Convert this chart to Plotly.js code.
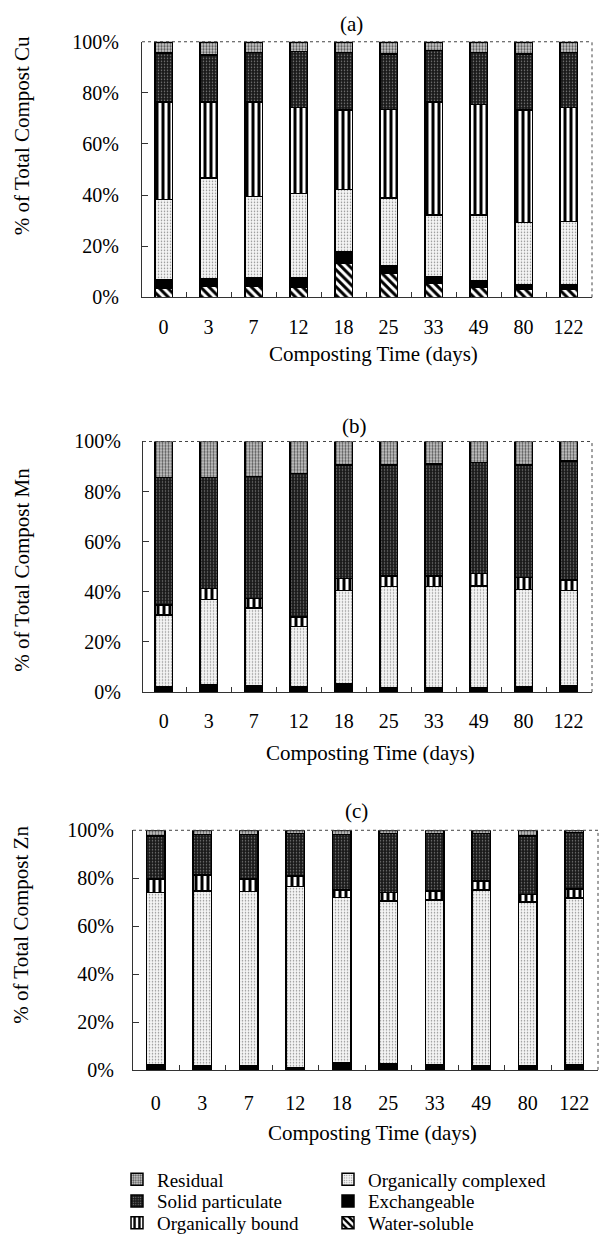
<!DOCTYPE html>
<html>
<head>
<meta charset="utf-8">
<script src="https://cdn.plot.ly/plotly-3.0.1.min.js"></script>
<style>html,body{margin:0;padding:0;background:#fff;}#chart{width:600px;height:1242px;}</style>
</head>
<body>
<div id="chart"></div>
<script>
const days = ["0","3","7","12","18","25","33","49","80","122"];
const fractionNames = ["Water-soluble","Exchangeable","Organically complexed","Organically bound","Solid particulate","Residual"];

// Panel (a) Cu
const cuWater   = [3.5, 4.2, 4.2, 3.8, 13.2, 9.6, 5.4, 3.8, 3.2, 3.1];
const cuExch    = [3.2, 2.9, 3.5, 3.9, 4.8, 2.7, 2.6, 2.5, 1.9, 2.0];
const cuOrgComp = [31.6, 39.5, 31.7, 33.0, 24.1, 26.6, 24.3, 26.0, 24.1, 24.6];
const cuOrgBound= [38.1, 29.8, 37.0, 33.5, 31.2, 34.6, 44.1, 43.2, 44.1, 44.5];
const cuSolid   = [19.2, 18.5, 19.4, 22.0, 22.5, 21.8, 20.2, 20.3, 22.0, 21.6];
const cuResid   = [4.4, 5.1, 4.2, 3.8, 4.2, 4.7, 3.4, 4.2, 4.7, 4.2];

// Panel (b) Mn
const mnWater   = [0.3, 0.3, 0.3, 0.3, 0.3, 0.2, 0.2, 0.2, 0.2, 0.3];
const mnExch    = [1.8, 2.7, 2.3, 1.8, 3.1, 1.5, 1.5, 1.5, 1.8, 2.1];
const mnOrgComp = [28.7, 34.0, 30.9, 24.1, 37.1, 40.4, 40.4, 40.6, 39.0, 38.1];
const mnOrgBound= [4.0, 4.4, 3.9, 3.7, 4.9, 4.2, 4.2, 5.1, 4.8, 4.2];
const mnSolid   = [50.9, 44.3, 48.6, 57.4, 45.3, 44.4, 44.7, 44.3, 44.9, 47.6];
const mnResid   = [14.3, 14.3, 14.0, 12.7, 9.3, 9.3, 9.0, 8.3, 9.3, 7.7];

// Panel (c) Zn
const znWater   = [0.3, 0.3, 0.3, 0.2, 0.3, 0.3, 0.3, 0.2, 0.2, 0.3];
const znExch    = [1.9, 1.5, 1.5, 0.9, 2.5, 2.2, 1.9, 1.6, 1.6, 1.9];
const znOrgComp = [71.9, 72.9, 72.6, 75.4, 69.1, 68.0, 68.8, 73.3, 68.2, 69.5];
const znOrgBound= [5.6, 6.6, 5.3, 4.5, 3.2, 3.6, 3.7, 3.7, 3.3, 3.8];
const znSolid   = [17.9, 16.9, 18.5, 17.6, 23.1, 24.5, 23.9, 19.8, 24.3, 23.5];
const znResid   = [2.4, 1.8, 1.8, 1.4, 1.8, 1.4, 1.4, 1.4, 2.4, 1.0];

const yTitles = ["% of Total Compost Cu","% of Total Compost Mn","% of Total Compost Zn"];
const xTitle = "Composting Time (days)";
const panelLabels = ["(a)","(b)","(c)"];

const panels = [
  [cuWater, cuExch, cuOrgComp, cuOrgBound, cuSolid, cuResid],
  [mnWater, mnExch, mnOrgComp, mnOrgBound, mnSolid, mnResid],
  [znWater, znExch, znOrgComp, znOrgBound, znSolid, znResid]
];

const styles = [
  {color:'#ffffff', pattern:{shape:'\\', fgcolor:'#000', bgcolor:'#fff', fgopacity:1, size:6, solidity:0.5, fillmode:'overlay'}},
  {color:'#000000', pattern:{shape:''}},
  {color:'#f2f2f2', pattern:{shape:'.', fgcolor:'#8a8a8a', bgcolor:'#f4f4f4', fgopacity:1, size:3, solidity:0.2, fillmode:'overlay'}},
  {color:'#ffffff', pattern:{shape:'|', fgcolor:'#000', bgcolor:'#fff', fgopacity:1, size:6, solidity:0.5, fillmode:'overlay'}},
  {color:'#1a1a1a', pattern:{shape:'.', fgcolor:'#808080', bgcolor:'#1a1a1a', fgopacity:1, size:3, solidity:0.2, fillmode:'overlay'}},
  {color:'#b8b8b8', pattern:{shape:'.', fgcolor:'#555', bgcolor:'#d0d0d0', fgopacity:1, size:3, solidity:0.45, fillmode:'overlay'}}
];
// legend placement: each fraction in its own legend box (two columns)
const legendIds = ['legend6','legend5','legend4','legend3','legend2','legend'];
const legendPos = {
  legend:  [117, 1186], legend2: [117, 1208], legend3: [117, 1230],
  legend4: [328, 1186], legend5: [328, 1208], legend6: [328, 1230]
};

const serif = 'Liberation Serif, Times New Roman, serif';
const FS = 20;

const traces = [];
panels.forEach((series, p) => {
  const ax = p === 0 ? '' : String(p+1);
  series.forEach((vals, k) => {
    traces.push({
      type:'bar', x: days, y: vals, name: fractionNames[k],
      xaxis:'x'+ax, yaxis:'y'+ax,
      marker:{color: styles[k].color, pattern: styles[k].pattern, line:{color:'#000', width:1.5}},
      showlegend: p === 0, legend: legendIds[k], hoverinfo:'skip'
    });
  });
});

const xDomains = [[142/600, 592/600],[143/600, 592/600],[133/600, 598/600]];
const yDomains = [[1-299/1242, 1-42/1242],[1-696/1242, 1-444/1242],[1-1076/1242, 1-835/1242]];
const xRanges = [[-0.48, 9.52],[-0.46, 9.52],[-0.49, 9.51]];
const xStandoff = [12, 11, 15];
const yStandoff = [18, 17, 14];
const yTitlePos = [[22, 137], [22, 573], [21, 930]];
const xTitlePos = [[373, 356], [370, 757], [372, 1139]];
const panelLabelPos = [[351, 24], [354, 428], [356, 816]];

const layout = {
  width:600, height:1242,
  margin:{l:0, r:0, t:0, b:0},
  paper_bgcolor:'#fff', plot_bgcolor:'#fff',
  barmode:'stack', bargap:0.61,
  font:{family: serif, size:FS, color:'#000'},
  showlegend:true,
  shapes:[], annotations:[]
};

Object.keys(legendPos).forEach(id => {
  const [px, py] = legendPos[id];
  layout[id] = {x:px/600, xanchor:'left', y:1-py/1242, yanchor:'middle',
    font:{family:serif, size:19}, bgcolor:'rgba(0,0,0,0)', borderwidth:0};
});

for (let p = 0; p < 3; p++) {
  const ax = p === 0 ? '' : String(p+1);
  layout['xaxis'+ax] = {
    domain: xDomains[p], anchor:'y'+ax, type:'category', range: xRanges[p],
    showline:true, linecolor:'#333', linewidth:1, mirror:false,
    ticks:'inside', tickson:'boundaries', ticklen:5, tickcolor:'#333',
    showgrid:false, zeroline:false, ticklabelstandoff:xStandoff[p],
    tickfont:{family:serif, size:FS}, fixedrange:true
  };
  layout['yaxis'+ax] = {
    domain: yDomains[p], anchor:'x'+ax, range:[0,100], dtick:20, ticksuffix:'%',
    showline:true, linecolor:'#333', linewidth:1, mirror:false,
    ticks:'inside', ticklen:6, tickcolor:'#333', showgrid:false, zeroline:false,
    ticklabelstandoff:yStandoff[p],
    tickfont:{family:serif, size:FS}, fixedrange:true
  };
  // dotted top and right frame
  layout.shapes.push({type:'line', xref:'x'+ax+' domain', yref:'y'+ax+' domain', x0:0, x1:1, y0:1, y1:1, line:{color:'#444', width:1, dash:'dot'}});
  layout.shapes.push({type:'line', xref:'x'+ax+' domain', yref:'y'+ax+' domain', x0:1, x1:1, y0:0, y1:1, line:{color:'#444', width:1, dash:'dot'}});
  layout.annotations.push({text: panelLabels[p], xref:'paper', yref:'paper',
    x:panelLabelPos[p][0]/600, y:1-panelLabelPos[p][1]/1242,
    xanchor:'center', yanchor:'middle', showarrow:false, font:{family:serif, size:21}});
  layout.annotations.push({text: xTitle, xref:'paper', yref:'paper',
    x:xTitlePos[p][0]/600, y:1-xTitlePos[p][1]/1242,
    xanchor:'center', yanchor:'middle', showarrow:false, font:{family:serif, size:21}});
  layout.annotations.push({text: yTitles[p], xref:'paper', yref:'paper', textangle:-90,
    x:yTitlePos[p][0]/600, y:1-yTitlePos[p][1]/1242,
    xanchor:'center', yanchor:'middle', showarrow:false, font:{family:serif, size:21}});
}

Plotly.newPlot('chart', traces, layout, {staticPlot:true, displayModeBar:false});
</script>
</body>
</html>
